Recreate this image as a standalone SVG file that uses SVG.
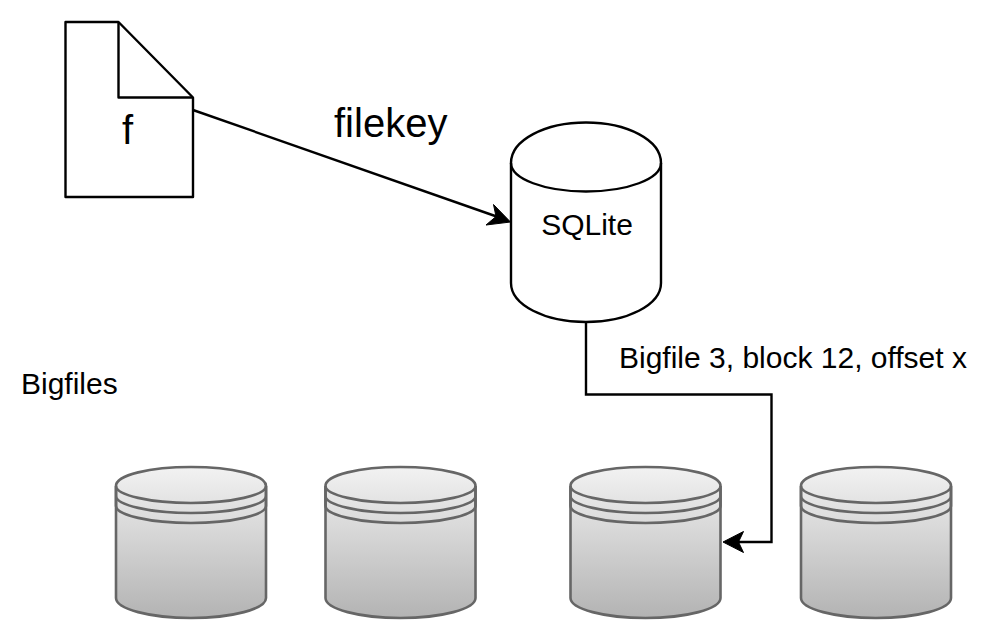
<svg xmlns="http://www.w3.org/2000/svg" width="996" height="634" viewBox="0 0 996 634">
<style>
text{font-family:"Liberation Sans",Arial,sans-serif;fill:#000}
.k{fill:#fff;stroke:#000;stroke-width:2.4;stroke-linejoin:round}
.n{fill:none;stroke:#000;stroke-width:2.4;stroke-linejoin:round}
.c{fill:none;stroke:#000;stroke-width:2.4}
.a{fill:#000;stroke:#000;stroke-width:1}
.d{stroke:#666;stroke-width:2.6;fill:url(#g)}
.l{stroke:#666;stroke-width:2.6;fill:none}
.s{font-size:30px}
.b{font-size:40px}
</style>
<defs>
<linearGradient id="g" x1="0" y1="0" x2="0" y2="1"><stop offset="0" stop-color="#f2f2f2"/><stop offset="1" stop-color="#b3b3b3"/></linearGradient>
<g id="bf">
<path class="d" d="M0 19C0 8 34 0 75 0S150 8 150 19V131C150 142 116 151 75 151S0 142 0 131Z"/>
<path class="l" d="M0 19C0 28 34 36 75 36S150 28 150 19M0 19V29C0 38 34 46 75 46S150 38 150 29V19M0 29V39C0 48 34 56 75 56S150 48 150 39V29"/>
</g>
</defs>
<g id="connectors">
<path class="c" d="M193 110L498 217"/>
<path class="a" d="M510.500 222L486 225L496 216.500L493.500 204.500Z"/>
<path class="c" d="M586 322V394.500H771.500V542H735"/>
<path class="a" d="M723 542L743.500 531.500L738.500 542L743.500 552.500Z"/>
</g>
<g id="file">
<path class="k" d="M65.500 22H118.500L193 97.500V197H65.500Z"/>
<path class="n" d="M118.500 22V97.500H193"/>
<text x="127.500" y="144" class="b" text-anchor="middle">f</text>
</g>
<text id="filekey" x="334" y="137" class="b">filekey</text>
<g id="sqlite">
<path class="k" d="M511 163C511 140 545 122.500 586 122.500S661 140 661 163V283C661 305 627 322 586 322S511 305 511 283Z"/>
<path class="n" d="M511 163C511 179 545 191.500 586 191.500S661 179 661 163"/>
<text x="587" y="235" class="s" text-anchor="middle">SQLite</text>
</g>
<text id="edge-label" x="619" y="368" class="s">Bigfile 3, block 12, offset x</text>
<text id="bigfiles" x="21" y="394" class="s">Bigfiles</text>
<g id="bigfile1"><use href="#bf" x="116" y="467"/></g>
<g id="bigfile2"><use href="#bf" x="325.500" y="467"/></g>
<g id="bigfile3"><use href="#bf" x="570.500" y="467"/></g>
<g id="bigfile4"><use href="#bf" x="801" y="467"/></g>
</svg>
